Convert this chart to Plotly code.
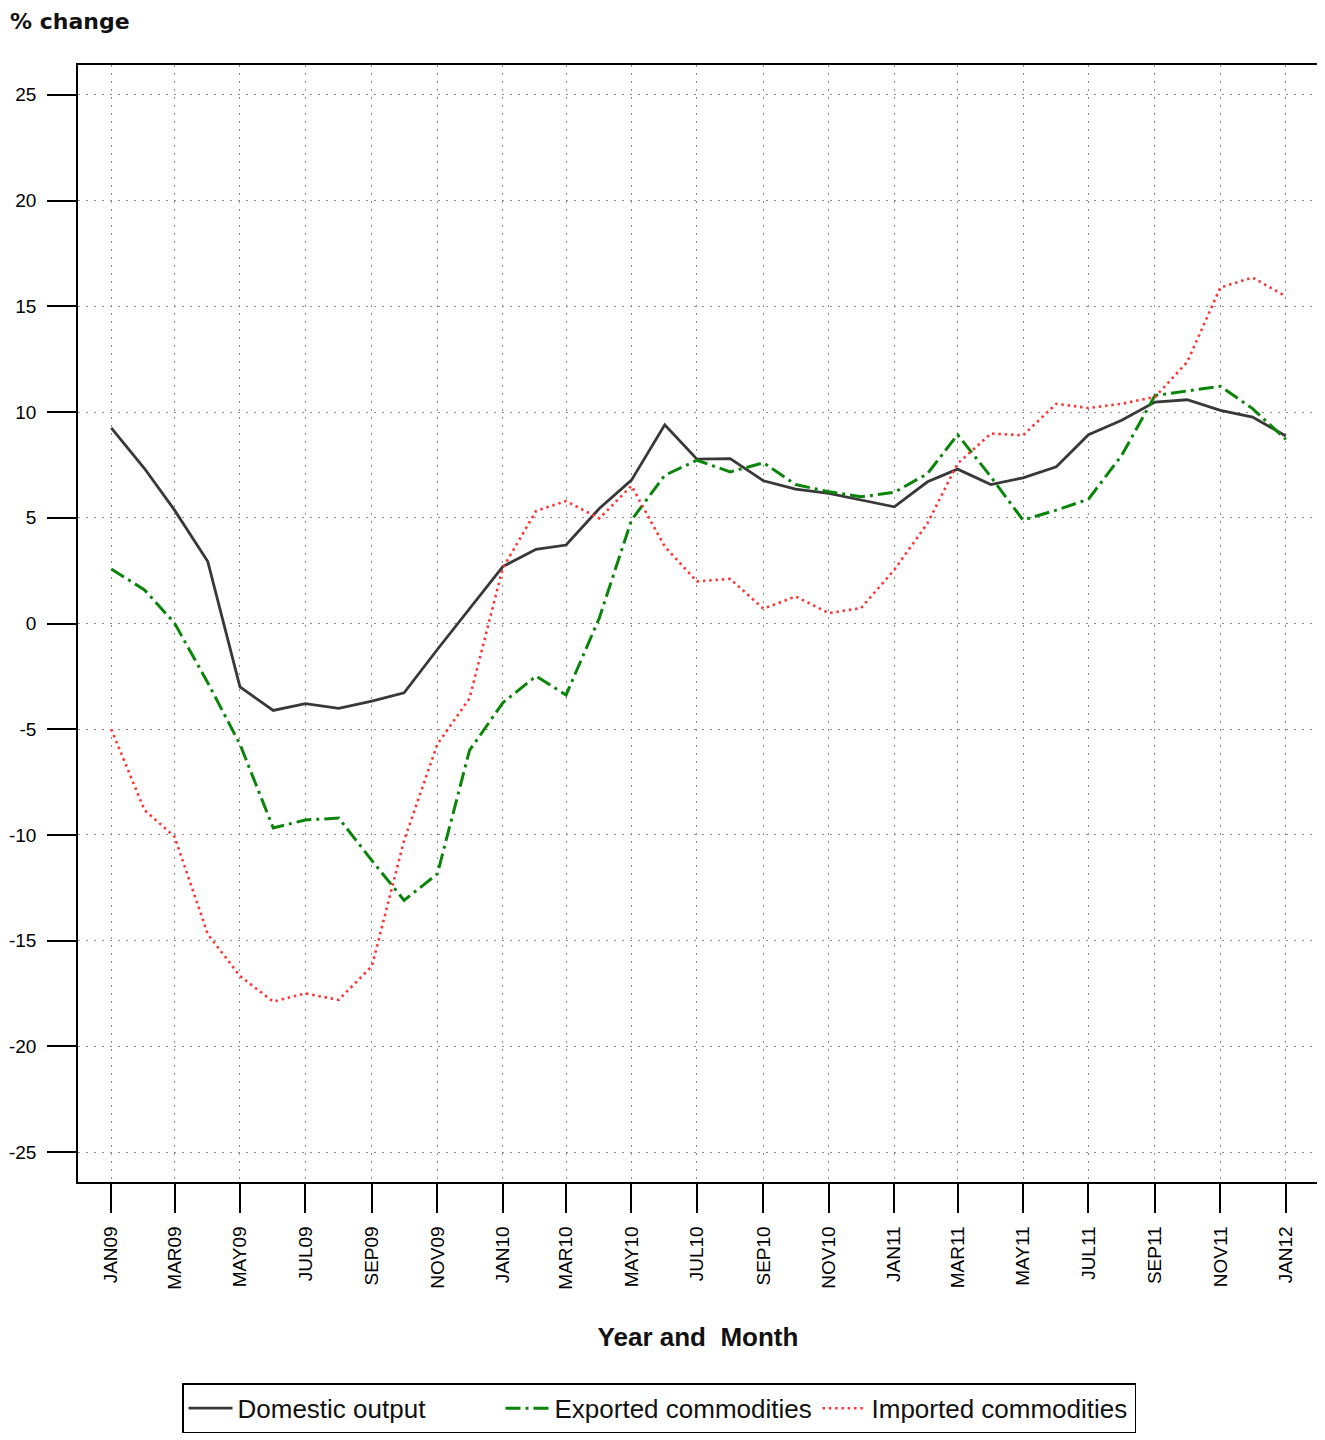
import plotly.graph_objects as go

months = [
    "2009-01-01", "2009-02-01", "2009-03-01", "2009-04-01", "2009-05-01", "2009-06-01",
    "2009-07-01", "2009-08-01", "2009-09-01", "2009-10-01", "2009-11-01", "2009-12-01",
    "2010-01-01", "2010-02-01", "2010-03-01", "2010-04-01", "2010-05-01", "2010-06-01",
    "2010-07-01", "2010-08-01", "2010-09-01", "2010-10-01", "2010-11-01", "2010-12-01",
    "2011-01-01", "2011-02-01", "2011-03-01", "2011-04-01", "2011-05-01", "2011-06-01",
    "2011-07-01", "2011-08-01", "2011-09-01", "2011-10-01", "2011-11-01", "2011-12-01",
    "2012-01-01",
]

domestic_output = [
    9.25, 7.33, 5.36, 2.93, -3.00, -4.11, -3.79, -4.01, -3.67, -3.28, -1.23, 0.70,
    2.69, 3.51, 3.71, 5.44, 6.78, 9.40, 7.77, 7.80, 6.75, 6.35, 6.15, 5.84,
    5.52, 6.70, 7.30, 6.57, 6.89, 7.41, 8.93, 9.61, 10.47, 10.58, 10.08, 9.76,
    8.87,
]

exported_commodities = [
    2.58, 1.59, 0.02, -2.80, -5.71, -9.67, -9.29, -9.20, -11.21, -13.09, -11.84, -6.00,
    -3.75, -2.49, -3.38, 0.26, 4.89, 7.01, 7.72, 7.17, 7.60, 6.57, 6.23, 5.99,
    6.20, 7.09, 8.93, 6.94, 4.89, 5.36, 5.88, 7.95, 10.78, 10.99, 11.22, 10.16,
    8.71,
]

imported_commodities = [
    -5.00, -8.82, -10.08, -14.69, -16.67, -17.88, -17.49, -17.80, -16.20, -10.26, -5.71, -3.54,
    2.62, 5.32, 5.79, 4.97, 6.51, 3.64, 1.99, 2.11, 0.70, 1.28, 0.49, 0.73,
    2.54, 4.74, 7.56, 8.98, 8.90, 10.39, 10.19, 10.39, 10.71, 12.36, 15.89, 16.36,
    15.47,
]

x_tick_vals = [
    "2009-01-01", "2009-03-01", "2009-05-01", "2009-07-01", "2009-09-01", "2009-11-01",
    "2010-01-01", "2010-03-01", "2010-05-01", "2010-07-01", "2010-09-01", "2010-11-01",
    "2011-01-01", "2011-03-01", "2011-05-01", "2011-07-01", "2011-09-01", "2011-11-01",
    "2012-01-01",
]
x_tick_text = [
    "JAN09", "MAR09", "MAY09", "JUL09", "SEP09", "NOV09",
    "JAN10", "MAR10", "MAY10", "JUL10", "SEP10", "NOV10",
    "JAN11", "MAR11", "MAY11", "JUL11", "SEP11", "NOV11",
    "JAN12",
]
y_tick_vals = [-25, -20, -15, -10, -5, 0, 5, 10, 15, 20, 25]
y_tick_text = ["-25", "-20", "-15", "-10", "-5", "0", "5", "10", "15", "20", "25"]

FONT = "Liberation Sans, Arial, sans-serif"
GRID_DASH = "1.5px,6.5px"

fig = go.Figure()
fig.add_trace(go.Scatter(
    x=months, y=domestic_output, mode="lines", name="Domestic output",
    line=dict(color="#383838", width=2.8),
))
fig.add_trace(go.Scatter(
    x=months, y=exported_commodities, mode="lines", name="Exported commodities",
    line=dict(color="#0a850a", width=3, dash="15px,5px,3px,5px"),
))
fig.add_trace(go.Scatter(
    x=months, y=imported_commodities, mode="lines", name="Imported commodities",
    line=dict(color="#ff3535", width=2.6, dash="2.5px,3.8px"),
))

# page has an 8px body offset: figure coordinates = screen coordinates - 8
fig.update_layout(
    width=1317, height=1432,
    margin=dict(l=70, r=7, t=57, b=254),
    paper_bgcolor="white", plot_bgcolor="white",
    font=dict(family=FONT, size=18, color="black"),
    title=dict(
        text="<b>% change</b>",
        font=dict(family="DejaVu Sans, sans-serif", size=22, color="#111"),
        xref="container", yref="container",
        x=2 / 1317, xanchor="left",
        y=1 - 13 / 1432, yanchor="middle",
    ),
    showlegend=True,
    legend=dict(
        orientation="h",
        x=(182 - 78) / 1240, xanchor="left",
        y=(1186 - 1388) / 1121, yanchor="top",
        bordercolor="black", borderwidth=1.5,
        bgcolor="white",
        font=dict(family=FONT, size=26, color="#111"),
        itemwidth=44,
        entrywidth=258, entrywidthmode="pixels",
        tracegroupgap=0,
    ),
)

fig.update_xaxes(
    type="date",
    range=["2008-12-01", "2012-01-31"],
    tickmode="array", tickvals=x_tick_vals, ticktext=x_tick_text,
    tickangle=-90,
    ticks="outside", ticklen=29, tickwidth=1.5, tickcolor="black",
    ticklabelstandoff=6,
    tickfont=dict(family=FONT, size=19, color="black"),
    showgrid=True, gridcolor="#8c8c8c", gridwidth=1, griddash=GRID_DASH,
    showline=True, linecolor="black", linewidth=1.5, mirror=True,
    zeroline=False,
    title=dict(
        text="<b>Year and\u00a0 Month</b>",
        font=dict(family=FONT, size=26, color="#111"),
        standoff=39,
    ),
    automargin=False,
)
fig.update_yaxes(
    range=[-26.41, 26.41],
    tickmode="array", tickvals=y_tick_vals, ticktext=y_tick_text,
    ticks="outside", ticklen=29, tickwidth=1.5, tickcolor="black",
    ticklabelstandoff=7,
    tickfont=dict(family=FONT, size=19, color="black"),
    showgrid=True, gridcolor="#8c8c8c", gridwidth=1, griddash=GRID_DASH,
    showline=True, linecolor="black", linewidth=1.5, mirror=True,
    zeroline=False,
    automargin=False,
)

fig.write_html("out.html")
